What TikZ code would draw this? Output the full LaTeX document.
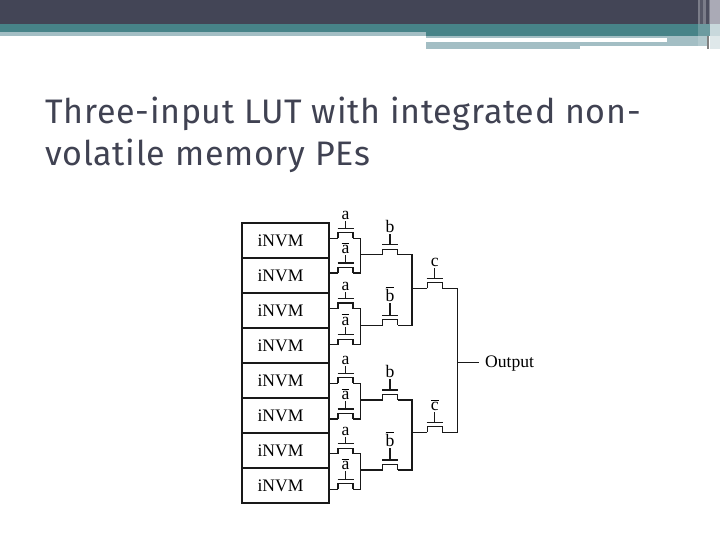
\documentclass[tikz,border=0pt]{standalone}
\usepackage{fontspec}
\usepackage{amsmath}
\setmainfont{Liberation Serif}
\newfontfamily\titlefont[LetterSpace=2.2]{Fira Sans}
\usetikzlibrary{calc}
\definecolor{hdrdark}{rgb}{0.263,0.271,0.337}
\definecolor{hdrteal}{rgb}{0.278,0.514,0.533}
\definecolor{hdrpale}{rgb}{0.639,0.745,0.769}
\definecolor{titlegray}{rgb}{0.25,0.26,0.32}
\tikzset{
wire/.style={line width=1.35pt,black!90},
memcell/.style={draw=black!90,line width=1.35pt,minimum width=87pt,minimum height=35pt,inner sep=0pt,font=\fontsize{17.6}{20}\selectfont},
gatelabel/.style={inner sep=0pt,font=\fontsize{17.6}{19}\selectfont},
titleline/.style={anchor=base west,inner sep=0pt,text=titlegray,font=\titlefont\fontsize{34}{42}\selectfont},
}
% name, centre x, line y, stem length, label
\newcommand{\passgate}[5]{
\coordinate (#1l) at (#2-7.5,#3);
\coordinate (#1r) at (#2+7.5,#3);
\draw [wire] (#1l)-- ++(0,-5.5)-- ($(#1r)+(0,-5.5)$)-- (#1r);
\draw [wire] (#2-8,#3-10)-- (#2+8,#3-10);
\draw [wire] (#2,#3-10)-- (#2,#3-10-#4) coordinate (#1g);
\node [gatelabel,above=1pt] (#1t) at (#1g) {#5};
}
\newcommand{\nota}{$\overline{\text{a}}$}
\newcommand{\notb}{$\overline{\text{b}}$}
\newcommand{\notc}{$\overline{\text{c}}$}
\begin{document}
\begin{tikzpicture}[line cap=butt,line join=miter,x=1pt,y=-1pt]
\useasboundingbox (0,0) rectangle (720,540);
% slide header
\fill [hdrdark] (0,0) rectangle (698,24);
\fill [hdrteal] (0,24) rectangle (698,36);
\fill [hdrpale] (0,32) rectangle (426,36);
\fill [hdrpale] (426,36) rectangle (698,38.3);
\fill [hdrpale] (426,41.7) rectangle (667,45.7);
\fill [hdrpale] (426,45.7) rectangle (580,49);
\fill [hdrpale] (667,38.3) rectangle (698,45.7);
\fill [hdrdark!70!white] (698,0) rectangle (710,24);
\fill [hdrdark!90] (700,0) rectangle (703,24);
\fill [hdrdark!95] (706,0) rectangle (709,24);
\fill [hdrteal!60!hdrpale] (698,24) rectangle (710,36);
\fill [hdrpale!85!white] (698,36) rectangle (707,45.7);
\fill [black!30!white!95!blue] (710,0) rectangle (720,24);
\fill [hdrpale!60!white] (710,24) rectangle (720,36);
\fill [hdrpale!35!white] (710,36) rectangle (720,49);
\fill [black!50] (707,36) rectangle (709,49);
\node [titleline] (title1) at (45,123.5) {Three-input LUT with integrated non-};
\node [titleline] (title2) at (45,166) {volatile memory PEs};
% memory cells
\foreach \n in {1,...,8}
\node [memcell] (box\n) at (285.5,205.5+35*\n) {\hspace*{-10pt}iNVM};
% first column
\passgate{aa}{345.5}{238.3}{7}{a}
\passgate{ab}{345.5}{273}{8}{\nota}
\passgate{ac}{345.5}{308.6}{7}{a}
\passgate{ad}{345.5}{344.7}{8}{\nota}
\passgate{ae}{345.5}{383.3}{7}{a}
\passgate{af}{345.5}{419}{8}{\nota}
\passgate{ag}{345.5}{453.7}{7}{a}
\passgate{ah}{345.5}{489.3}{8}{\nota}
% second column
\passgate{ba}{390}{254.7}{11}{b}
\passgate{bb}{390}{325.3}{12}{\notb}
\passgate{bc}{390}{400}{11}{b}
\passgate{bd}{390}{470}{12}{\notb}
% third column
\passgate{ca}{434.7}{288.3}{10}{c}
\passgate{cb}{434.7}{432.3}{10}{\notc}
% wires
\foreach \t/\n in {aa/1,ab/2,ac/3,ad/4,ae/5,af/6,ag/7,ah/8}
\draw [wire] (box\n.east |- \t l)-- (\t l);
\foreach \p/\q/\r in {aa/ab/ba,ac/ad/bb,ae/af/bc,ag/ah/bd} {
\draw [wire] (\p r)-- ++(22.5-7.5-7.5+0,0) coordinate (\r top) |- (\q r);
\draw [wire] (\r top |- \r l)-- (\r l);
}
\foreach \p/\q/\r in {ba/bb/ca,bc/bd/cb} {
\draw [wire] (\p r)-- ++(14.6,0) coordinate (\r top) |- (\q r);
\draw [wire] (\r top |- \r l)-- (\r l);
}
\draw [wire] (car)-- ++(15.1,0) coordinate (outbus) |- (cbr);
\node [anchor=west,inner sep=0pt,font=\fontsize{17.6}{20}\selectfont] (output) at (485,364) {Output};
\coordinate (outjoin) at (outbus |- 0,362.7);
\coordinate (outend) at (479.3,362.7);
\draw [wire] (outjoin)-- (outend);
\end{tikzpicture}
\end{document}
